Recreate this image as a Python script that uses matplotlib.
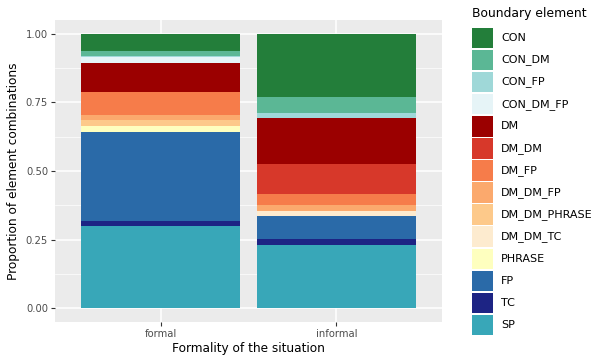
import numpy as np
import matplotlib.pyplot as plt
from matplotlib.patches import Rectangle

# categories and stacked proportions (bottom to top)
situations = ['formal', 'informal']
elements = ['SP', 'TC', 'FP', 'PHRASE', 'DM_DM_TC', 'DM_DM_PHRASE', 'DM_DM_FP',
            'DM_FP', 'DM_DM', 'DM', 'CON_DM_FP', 'CON_FP', 'CON_DM', 'CON']
formal = [0.298, 0.021, 0.323, 0.021, 0.0, 0.022, 0.020,
          0.084, 0.0, 0.106, 0.021, 0.003, 0.019, 0.062]
informal = [0.232, 0.021, 0.082, 0.0, 0.020, 0.0, 0.021,
            0.042, 0.106, 0.168, 0.0, 0.020, 0.059, 0.229]
colors = ['#38a7b8', '#1d2484', '#2a6aa8', '#feffbf', '#fdebcf', '#fdc98a', '#fba96d',
          '#f67c4a', '#d7382a', '#9b0000', '#e6f4f7', '#9fd8d8', '#5bb795', '#237e3a']

W, H = 595, 360
fig = plt.figure(figsize=(W / 100, H / 100), dpi=100)
ax = fig.add_axes([55 / W, 1 - 322 / H, 387 / W, 302 / H])
ax.set_facecolor('#EBEBEB')

x = np.arange(1, len(situations) + 1)
vals = np.array([formal, informal])
bottom = np.zeros(len(situations))
for i, el in enumerate(elements):
    ax.bar(x, vals[:, i], bottom=bottom, width=0.9, color=colors[i], zorder=3)
    bottom += vals[:, i]

ax.set_xlim(0.4, 2.6)
ax.set_ylim(-0.05, 1.05)
ax.set_yticks([0, 0.25, 0.5, 0.75, 1.0])
ax.set_yticklabels(['0.00', '0.25', '0.50', '0.75', '1.00'])
ax.set_yticks([0.125, 0.375, 0.625, 0.875], minor=True)
ax.set_xticks(x)
ax.set_xticklabels(situations)
ax.grid(True, which='major', color='white', linewidth=1.1, zorder=0)
ax.grid(True, which='minor', axis='y', color='white', linewidth=0.5, zorder=0)
ax.tick_params(axis='both', which='major', length=3, color='#333333',
               labelcolor='#4D4D4D', labelsize=7.2, pad=2)
ax.tick_params(axis='y', which='minor', length=0)
for s in ax.spines.values():
    s.set_visible(False)

ax.set_xlabel('Formality of the situation', fontsize=8.7, labelpad=2)
ax.set_ylabel('Proportion of element combinations', fontsize=8.7, labelpad=4)

# legend drawn by hand, top element first (pixel layout -> figure fractions)
fig.text(472 / W, 1 - 14 / H, 'Boundary element', fontsize=8.9, va='center', ha='left')
key_top, pitch, key_h, key_w = 27.5, 22.1, 20.6, 20.5
for row, i in enumerate(range(len(elements) - 1, -1, -1)):
    top = key_top + row * pitch
    fig.add_artist(Rectangle((472 / W, 1 - (top + key_h) / H), key_w / W, key_h / H,
                             transform=fig.transFigure, facecolor=colors[i],
                             edgecolor='none'))
    fig.text(501 / W, 1 - (top + key_h / 2) / H, elements[i], fontsize=8.0,
             va='center', ha='left', color='black')

fig.savefig('out.png', dpi=100)
